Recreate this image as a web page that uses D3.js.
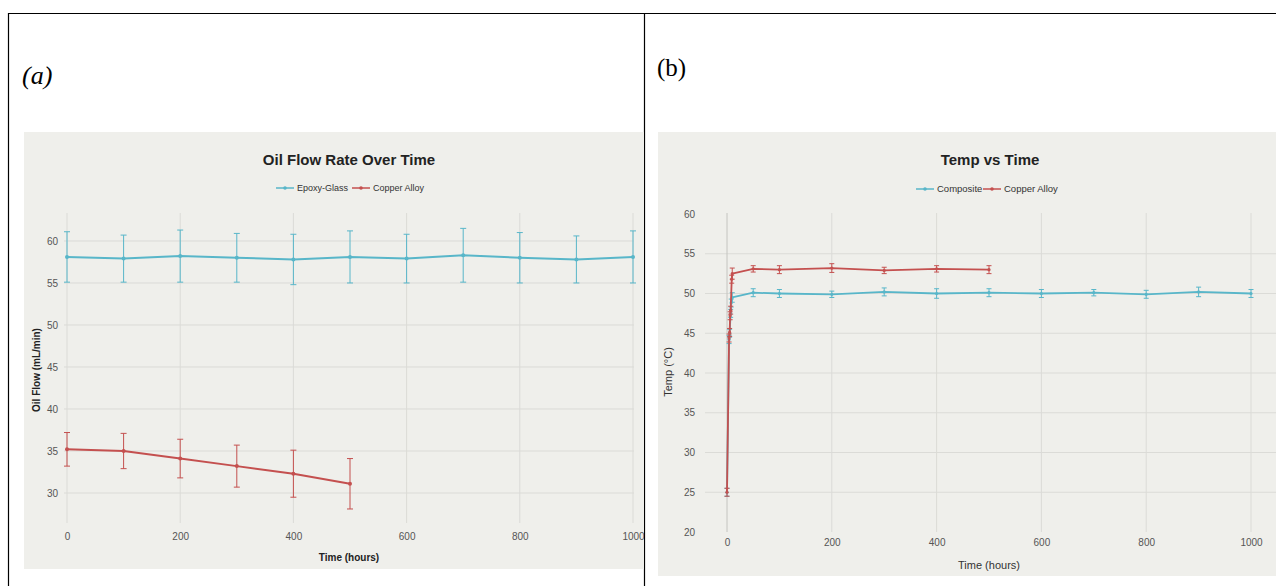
<!DOCTYPE html>
<html>
<head>
<meta charset="utf-8">
<script src="https://cdn.jsdelivr.net/npm/d3@7"></script>
<style>
  html, body { margin: 0; padding: 0; background: #ffffff; }
  svg { display: block; }
  text { font-family: "Liberation Sans", Arial, Helvetica, sans-serif; }
</style>
</head>
<body>
<svg id="fig" width="1276" height="586"></svg>
<script>
// ---- Panel (a): oil flow rate ----
const flowHours = [0, 100, 200, 300, 400, 500, 600, 700, 800, 900, 1000];
const epoxyFlow = [58.1, 57.9, 58.2, 58.0, 57.8, 58.1, 57.9, 58.3, 58.0, 57.8, 58.1];
const epoxyFlowErr = [3.0, 2.8, 3.1, 2.9, 3.0, 3.1, 2.9, 3.2, 3.0, 2.8, 3.1];
const copperFlowHours = [0, 100, 200, 300, 400, 500];
const copperFlow = [35.2, 35.0, 34.1, 33.2, 32.3, 31.1];
const copperFlowErr = [2.0, 2.1, 2.3, 2.5, 2.8, 3.0];
const flowYTicks = [30, 35, 40, 45, 50, 55, 60];
const flowXTicks = [0, 200, 400, 600, 800, 1000];

// ---- Panel (b): temperature ----
const compositeHours = [0, 4, 5, 7, 8, 10, 50, 100, 200, 300, 400, 500, 600, 700, 800, 900, 1000];
const compositeTemp = [25.0, 44.2, 45.0, 47.5, 48.8, 49.5, 50.1, 50.0, 49.9, 50.2, 50.0, 50.1, 50.0, 50.1, 49.9, 50.2, 50.0];
const compositeTempErr = [0.5, 0.5, 0.5, 0.5, 0.5, 0.6, 0.5, 0.5, 0.4, 0.5, 0.6, 0.5, 0.5, 0.4, 0.5, 0.6, 0.5];
const copperHours = [0, 4, 5, 6, 7, 9, 10, 50, 100, 200, 300, 400, 500];
const copperTemp = [25.0, 44.4, 45.1, 47.2, 47.9, 51.8, 52.5, 53.1, 53.0, 53.2, 52.9, 53.1, 53.0];
const copperTempErr = [0.5, 0.5, 0.5, 0.5, 0.5, 0.5, 0.7, 0.4, 0.5, 0.55, 0.4, 0.4, 0.5];
const tempYTicks = [20, 25, 30, 35, 40, 45, 50, 55, 60];
const tempXTicks = [0, 200, 400, 600, 800, 1000];

const TEAL = "#58b6c9";
const RED = "#c4504f";
const BG = "#efefeb";
const GRID = "#dbdbd7";
const TICK = "#555555";

const svg = d3.select("#fig");

// table frame around the two panels
const frame = svg.append("g").attr("stroke", "#000").attr("stroke-width", 1.2);
frame.append("line").attr("x1", 8).attr("x2", 1276).attr("y1", 13.5).attr("y2", 13.5);
frame.append("line").attr("x1", 8.5).attr("x2", 8.5).attr("y1", 13).attr("y2", 586);
frame.append("line").attr("x1", 644.5).attr("x2", 644.5).attr("y1", 13).attr("y2", 586);

// panel labels
svg.append("text").attr("x", 22).attr("y", 84)
  .style("font-family", "'Liberation Serif', 'Times New Roman', serif")
  .style("font-style", "italic").style("font-size", "26px").attr("fill", "#000").text("(a)");
svg.append("text").attr("x", 657).attr("y", 76)
  .style("font-family", "'Liberation Serif', 'Times New Roman', serif")
  .style("font-size", "25px").attr("fill", "#000").text("(b)");

function series(xs, ys, es) {
  return xs.map((x, i) => ({ x, y: ys[i], e: es[i] }));
}

function drawSeries(g, data, x, y, color, lw, cap, r) {
  const eb = g.append("g").attr("stroke", color).attr("stroke-width", 1).attr("fill", "none");
  data.forEach(d => {
    const px = x(d.x), top = y(d.y + d.e), bot = y(d.y - d.e);
    eb.append("line").attr("x1", px).attr("x2", px).attr("y1", top).attr("y2", bot);
    eb.append("line").attr("x1", px - cap).attr("x2", px + cap).attr("y1", top).attr("y2", top);
    eb.append("line").attr("x1", px - cap).attr("x2", px + cap).attr("y1", bot).attr("y2", bot);
  });
  g.append("path").datum(data)
    .attr("fill", "none").attr("stroke", color).attr("stroke-width", lw)
    .attr("stroke-linejoin", "round")
    .attr("d", d3.line().x(d => x(d.x)).y(d => y(d.y)));
  g.append("g").selectAll("circle").data(data).join("circle")
    .attr("cx", d => x(d.x)).attr("cy", d => y(d.y)).attr("r", r).attr("fill", color);
}

function legendItem(g, x0, yc, color, label, fs) {
  g.append("line").attr("x1", x0).attr("x2", x0 + 18).attr("y1", yc).attr("y2", yc)
    .attr("stroke", color).attr("stroke-width", 1.5);
  g.append("circle").attr("cx", x0 + 9).attr("cy", yc).attr("r", 1.8).attr("fill", color);
  g.append("text").attr("x", x0 + 21).attr("y", yc).attr("dy", "0.35em")
    .style("font-size", fs + "px").attr("fill", "#333").text(label);
}

// ================= Panel (a) =================
svg.append("clipPath").attr("id", "clipA")
  .append("rect").attr("x", 9).attr("y", 14).attr("width", 635).attr("height", 572);
const A = svg.append("g").attr("clip-path", "url(#clipA)");
A.append("rect").attr("x", 24).attr("y", 132).attr("width", 630).attr("height", 437).attr("fill", BG);

const xA = d3.scaleLinear().domain([0, 1000]).range([67, 633]);
const yA = d3.scaleLinear().domain([26.43, 63.33]).range([523, 213]);

// grid
A.append("g")
  .selectAll("line").data(flowYTicks).join("line")
  .attr("x1", 64).attr("x2", 634).attr("y1", d => yA(d)).attr("y2", d => yA(d))
  .attr("stroke", GRID).attr("stroke-width", 1);
A.append("g")
  .selectAll("line").data(flowXTicks).join("line")
  .attr("x1", d => xA(d)).attr("x2", d => xA(d)).attr("y1", 213).attr("y2", 523)
  .attr("stroke", GRID).attr("stroke-width", 1);

// axes (labels only)
const axA_y = A.append("g").attr("transform", "translate(67,0)")
  .call(d3.axisLeft(yA).tickValues(flowYTicks).tickSize(0).tickPadding(9));
const axA_x = A.append("g").attr("transform", "translate(0,523)")
  .call(d3.axisBottom(xA).tickValues(flowXTicks).tickSize(0).tickPadding(10).tickFormat(d3.format("d")));
[axA_y, axA_x].forEach(ax => {
  ax.select(".domain").remove();
  ax.selectAll("text").style("font-size", "10px").attr("fill", TICK)
    .style("font-family", "'Liberation Sans', Arial, sans-serif");
});

drawSeries(A, series(flowHours, epoxyFlow, epoxyFlowErr), xA, yA, TEAL, 2, 3, 2);
drawSeries(A, series(copperFlowHours, copperFlow, copperFlowErr), xA, yA, RED, 2, 3, 2);

A.append("text").attr("x", 349).attr("y", 164.5).attr("text-anchor", "middle")
  .style("font-size", "15px").style("font-weight", "bold").attr("fill", "#222")
  .text("Oil Flow Rate Over Time");
const legA = A.append("g");
legendItem(legA, 276, 188, TEAL, "Epoxy-Glass", 9);
legendItem(legA, 352, 188, RED, "Copper Alloy", 9);

A.append("text").attr("transform", "translate(40,370) rotate(-90)").attr("text-anchor", "middle")
  .style("font-size", "10px").style("font-weight", "bold").attr("fill", "#222")
  .text("Oil Flow (mL/min)");
A.append("text").attr("x", 349).attr("y", 561).attr("text-anchor", "middle")
  .style("font-size", "10px").style("font-weight", "bold").attr("fill", "#222")
  .text("Time (hours)");

// ================= Panel (b) =================
svg.append("clipPath").attr("id", "clipB")
  .append("rect").attr("x", 645).attr("y", 14).attr("width", 631).attr("height", 572);
const B = svg.append("g").attr("clip-path", "url(#clipB)");
B.append("rect").attr("x", 658).attr("y", 132).attr("width", 640).attr("height", 444).attr("fill", BG);

const xB = d3.scaleLinear().domain([0, 1000]).range([727, 1251]);
const yB = d3.scaleLinear().domain([20, 60]).range([532, 214]);

B.append("g").selectAll("line").data(tempYTicks.filter(d => d > 20 && d < 60)).join("line")
  .attr("x1", 705).attr("x2", 1276).attr("y1", d => yB(d)).attr("y2", d => yB(d))
  .attr("stroke", GRID).attr("stroke-width", 1);
B.append("g").selectAll("line").data(tempXTicks).join("line")
  .attr("x1", d => xB(d)).attr("x2", d => xB(d)).attr("y1", 213).attr("y2", 532)
  .attr("stroke", d => d === 0 ? "#c4c4c0" : GRID).attr("stroke-width", 1);

const axB_y = B.append("g").attr("transform", "translate(705,0)")
  .call(d3.axisLeft(yB).tickValues(tempYTicks).tickSize(0).tickPadding(10));
const axB_x = B.append("g").attr("transform", "translate(0,532)")
  .call(d3.axisBottom(xB).tickValues(tempXTicks).tickSize(0).tickPadding(7).tickFormat(d3.format("d")));
[axB_y, axB_x].forEach(ax => {
  ax.select(".domain").remove();
  ax.selectAll("text").style("font-size", "10px").attr("fill", TICK)
    .style("font-family", "'Liberation Sans', Arial, sans-serif");
});

drawSeries(B, series(compositeHours, compositeTemp, compositeTempErr), xB, yB, TEAL, 1.8, 2.5, 1.6);
drawSeries(B, series(copperHours, copperTemp, copperTempErr), xB, yB, RED, 1.8, 2.5, 1.6);

B.append("text").attr("x", 990).attr("y", 164.5).attr("text-anchor", "middle")
  .style("font-size", "15px").style("font-weight", "bold").attr("fill", "#222")
  .text("Temp vs Time");
const legB = B.append("g");
legendItem(legB, 916, 189, TEAL, "Composite", 9.5);
legendItem(legB, 983, 189, RED, "Copper Alloy", 9.5);

B.append("text").attr("transform", "translate(672,372) rotate(-90)").attr("text-anchor", "middle")
  .style("font-size", "11px").attr("fill", "#333").text("Temp (°C)");
B.append("text").attr("x", 989).attr("y", 569).attr("text-anchor", "middle")
  .style("font-size", "11px").attr("fill", "#333").text("Time (hours)");
</script>
</body>
</html>
